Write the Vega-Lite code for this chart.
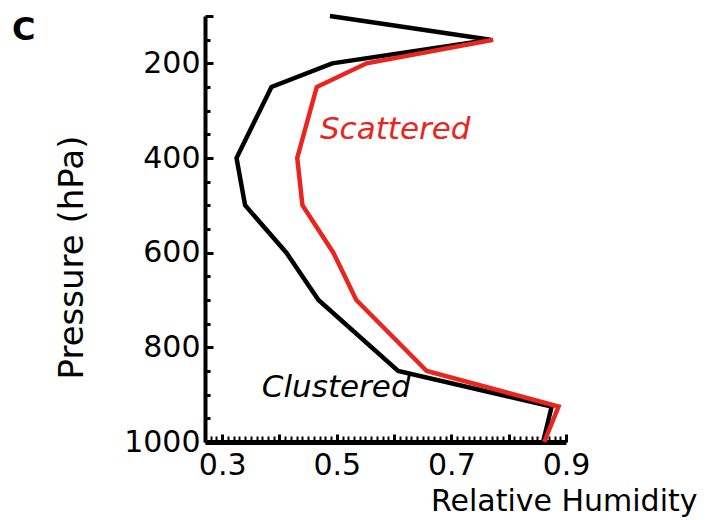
{
  "$schema": "https://vega.github.io/schema/vega-lite/v6.json",
  "width": 361,
  "height": 426,
  "autosize": {"type": "none"},
  "padding": {"left": 205, "top": 16, "right": 141, "bottom": 78},
  "background": "white",
  "config": {"view": {"stroke": null}, "font": "DejaVu Sans"},
  "title": {"text": "C", "anchor": "start", "frame": "group", "fontSize": 32, "fontWeight": "bold", "color": "black", "font": "DejaVu Sans", "dx": -193, "dy": 50},
  "datasets": {
    "profiles": [
      {"series": "Clustered", "p": 100, "rh": 0.488},
      {"series": "Clustered", "p": 150, "rh": 0.768},
      {"series": "Clustered", "p": 200, "rh": 0.492},
      {"series": "Clustered", "p": 250, "rh": 0.386},
      {"series": "Clustered", "p": 400, "rh": 0.325},
      {"series": "Clustered", "p": 500, "rh": 0.34},
      {"series": "Clustered", "p": 600, "rh": 0.412},
      {"series": "Clustered", "p": 700, "rh": 0.468},
      {"series": "Clustered", "p": 850, "rh": 0.607},
      {"series": "Clustered", "p": 925, "rh": 0.875},
      {"series": "Clustered", "p": 1000, "rh": 0.86},
      {"series": "Scattered", "p": 150, "rh": 0.773},
      {"series": "Scattered", "p": 200, "rh": 0.552},
      {"series": "Scattered", "p": 250, "rh": 0.465},
      {"series": "Scattered", "p": 400, "rh": 0.431},
      {"series": "Scattered", "p": 500, "rh": 0.44},
      {"series": "Scattered", "p": 600, "rh": 0.494},
      {"series": "Scattered", "p": 700, "rh": 0.534},
      {"series": "Scattered", "p": 850, "rh": 0.657},
      {"series": "Scattered", "p": 925, "rh": 0.887},
      {"series": "Scattered", "p": 1000, "rh": 0.862}
    ],
    "labels": [
      {"label": "Scattered", "p": 341, "rh": 0.602},
      {"label": "Clustered", "p": 886, "rh": 0.499}
    ]
  },
  "data": {"name": "profiles"},
  "resolve": {"axis": {"x": "independent", "y": "independent"}},
  "layer": [
    {
      "mark": {"type": "line", "opacity": 0},
      "encoding": {
        "x": {"field": "rh", "type": "quantitative", "scale": {"domain": [0.27, 0.9], "nice": false, "zero": false},
          "axis": {"orient": "bottom", "values": [0.27,0.28,0.29,0.3,0.31,0.32,0.33,0.34,0.35,0.36,0.37,0.38,0.39,0.4,0.41,0.42,0.43,0.44,0.45,0.46,0.47,0.48,0.49,0.5,0.51,0.52,0.53,0.54,0.55,0.56,0.57,0.58,0.59,0.6,0.61,0.62,0.63,0.64,0.65,0.66,0.67,0.68,0.69,0.7,0.71,0.72,0.73,0.74,0.75,0.76,0.77,0.78,0.79,0.8,0.81,0.82,0.83,0.84,0.85,0.86,0.87,0.88,0.89], "labels": false, "domain": false, "grid": false, "title": null, "tickSize": -6, "tickWidth": 2, "tickColor": "black"}},
        "y": {"field": "p", "type": "quantitative", "scale": {"domain": [100, 1000], "reverse": true, "nice": false, "zero": false},
          "axis": {"orient": "left", "values": [150,250,300,350,450,500,550,650,700,750,850,900,950], "labels": false, "domain": false, "grid": false, "title": null, "tickSize": -5, "tickWidth": 3, "tickColor": "black"}},
        "detail": {"field": "series"},
        "order": {"field": "p", "type": "quantitative"}
      }
    },
    {
      "mark": {"type": "line", "strokeWidth": 4.5, "strokeJoin": "miter"},
      "encoding": {
        "x": {"field": "rh", "type": "quantitative",
          "axis": {"orient": "bottom", "values": [0.3, 0.4, 0.5, 0.6, 0.7, 0.8, 0.9], "labelExpr": "indexof(['0.3','0.5','0.7','0.9'], format(datum.value, '.1f')) >= 0 ? format(datum.value, '.1f') : ''", "grid": false, "domainColor": "black", "domainWidth": 5, "tickSize": -8, "tickWidth": 3, "tickColor": "black", "labelFontSize": 30, "labelColor": "black", "labelPadding": 16, "labelFont": "DejaVu Sans", "labelFlush": false, "labelOverlap": false,
            "title": "Relative Humidity", "titleFontSize": 30, "titleFont": "DejaVu Sans", "titleFontWeight": "normal", "titleColor": "black", "titleAnchor": "end", "titleAlign": "right", "titleX": 492, "titleY": 68, "titleBaseline": "alphabetic"}},
        "y": {"field": "p", "type": "quantitative",
          "axis": {"orient": "left", "values": [100, 200, 400, 600, 800, 1000], "format": "d", "labelExpr": "datum.value == 100 ? '' : datum.label", "grid": false, "domainColor": "black", "domainWidth": 4, "tickSize": -8, "tickWidth": 3, "tickColor": "black", "labelFontSize": 30, "labelColor": "black", "labelPadding": 13, "labelFont": "DejaVu Sans", "labelFlush": false, "labelOverlap": false,
            "title": "Pressure (hPa)", "titleFontSize": 34, "titleFont": "DejaVu Sans", "titleFontWeight": "normal", "titleColor": "black", "titleAngle": -90, "titleX": -133, "titleY": 241, "titleAlign": "center", "titleBaseline": "middle"}},
        "color": {"field": "series", "type": "nominal", "scale": {"domain": ["Clustered", "Scattered"], "range": ["black", "#e8251f"]}, "legend": null},
        "order": {"field": "p", "type": "quantitative"}
      }
    },
    {
      "data": {"name": "labels"},
      "mark": {"type": "text", "font": "DejaVu Sans", "fontStyle": "italic", "fontSize": 31, "align": "center", "baseline": "middle"},
      "encoding": {
        "x": {"field": "rh", "type": "quantitative", "axis": null},
        "y": {"field": "p", "type": "quantitative", "axis": null},
        "text": {"field": "label"},
        "color": {"field": "label", "type": "nominal", "scale": {"domain": ["Clustered", "Scattered"], "range": ["black", "#e8251f"]}, "legend": null}
      }
    }
  ]
}
